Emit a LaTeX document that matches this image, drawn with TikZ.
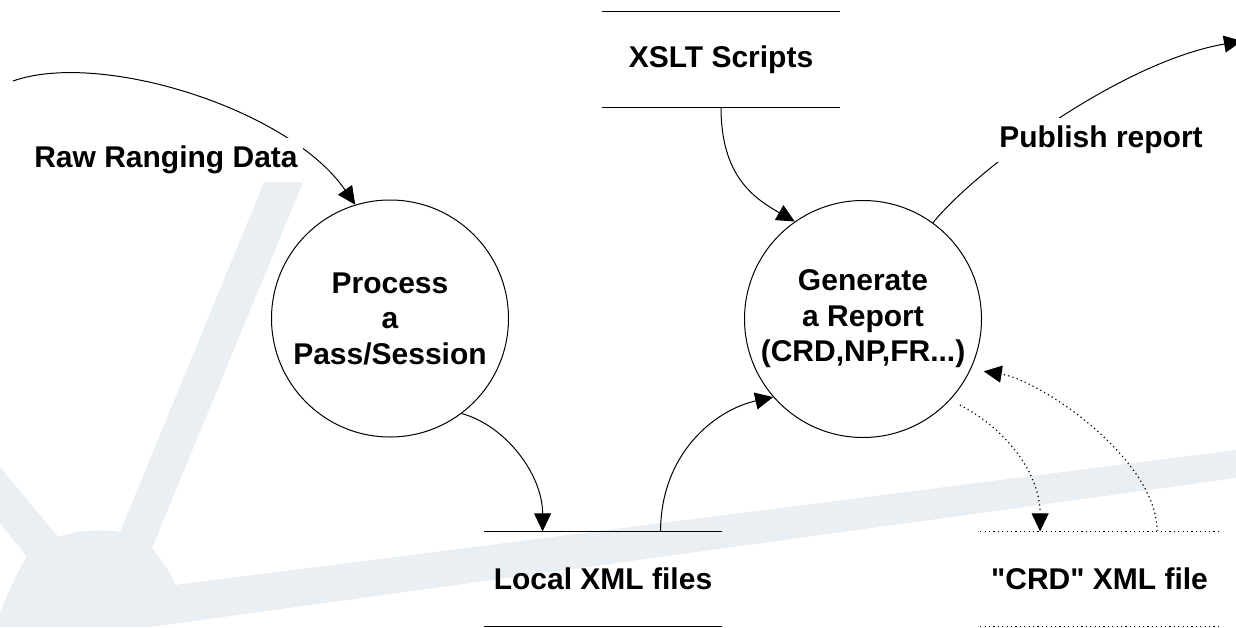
\documentclass[tikz,border=0pt]{standalone}
\usepackage{fontspec}
\newfontfamily\lsans{Liberation Sans}
\usetikzlibrary{arrows.meta,calc}
\definecolor{wmark}{RGB}{233,239,243}
\tikzset{
  procnode/.style={circle, draw, line width=0.5pt, minimum size=118.5pt, inner sep=0pt, align=center},
  storebox/.style={minimum width=119pt, minimum height=47.25pt, inner sep=0pt},
  flow/.style={line width=0.5pt, -{Triangle[length=9pt,width=8.5pt]}},
  dflow/.style={flow, line width=0.6pt, dash pattern=on 0.6pt off 1.6pt},
  lbl/.style={fill=white, inner xsep=2.5pt, inner ysep=4pt},
  storeline/.style={line width=0.5pt},
  dstoreline/.style={line width=0.6pt, dash pattern=on 0.6pt off 1.6pt},
}
\begin{document}
\begin{tikzpicture}[x=0.5pt,y=-0.5pt,font=\lsans\bfseries\fontsize{15}{17.75}\selectfont]
\useasboundingbox (0,0) rectangle (1236,627);
\clip (0,0) rectangle (1236,627);
% watermark
\fill[wmark] (0,467) -- (58,537) .. controls (75,530) and (105,529) .. (120,532)
  -- (265,180) -- (304,180) -- (152,548) .. controls (160,558) and (170,570) .. (175,585)
  -- (1236,450) -- (1236,478) -- (150,627) -- (0,627) -- (0,613)
  .. controls (5,600) and (15,575) .. (27,557) -- (0,523) -- cycle;

% nodes
\node[procnode] (proc) at (390,318.5) {Process\\a\\Pass/Session};
\node[procnode] (gen) at (863,319) {Generate\\a Report\\(CRD,NP,FR...)};
\node[storebox] (xslt) at (721,59.5) {XSLT Scripts};
\node[storebox] (local) at (603,579) {Local XML files};
\node[storebox] (crd) at (1099.5,579) {"CRD" XML file};
\coordinate (rawsrc) at (13,81);
\coordinate (pubdst) at (1242,41);

\draw[storeline] (xslt.north west) -- (xslt.north east);
\draw[storeline] (xslt.south west) -- (xslt.south east);
\draw[storeline] (local.north west) -- (local.north east);
\draw[storeline] (local.south west) -- (local.south east);
\draw[dstoreline] (crd.north west) -- (crd.north east);
\draw[dstoreline] (crd.south west) -- (crd.south east);

% connectors
\draw[flow] (rawsrc) .. controls +(87,-31) and +(-66,-96) .. (proc.107);
\draw[flow] (xslt.south) .. controls +(0,68) and +(-42,-24) .. (gen.125);
\draw[flow] (proc.-53) .. controls +(44,12) and +(0,-57) .. ([xshift=29.5pt]local.north west);
\draw[flow] ([xshift=88.5pt]local.north west) .. controls +(0,-77) and +(-59,13) .. (gen.221);
\draw[dflow, shorten <=5.5pt] (gen.-43) .. controls +(50,25) and +(0,-62) .. ([xshift=30pt]crd.north west);
\draw[dflow, shorten >=6.5pt] ([xshift=88.5pt]crd.north west) .. controls +(0,-72) and +(70,11) .. (gen.-25);
\draw[flow] (gen.54) .. controls +(42,-52) and +(-122,21) .. (pubdst);

% labels
\node[lbl] (raw) at (166,160) {Raw Ranging Data};
\node[lbl] (pub) at (1101,140) {Publish report};
\end{tikzpicture}
\end{document}
